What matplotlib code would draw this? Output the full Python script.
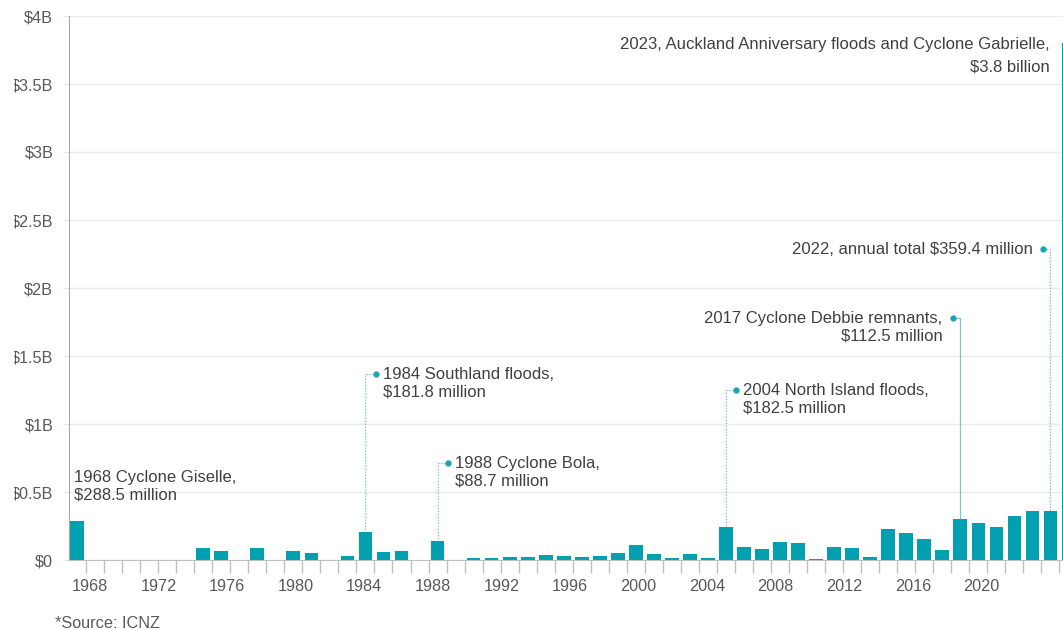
import matplotlib
matplotlib.use("Agg")
import matplotlib.pyplot as plt
from matplotlib.ticker import FixedLocator, FuncFormatter
from matplotlib.transforms import Bbox, TransformedBbox

plt.rcParams['font.family'] = ['Liberation Sans', 'DejaVu Sans']

# Annual insured weather-related losses, NZ$ million
years = list(range(1968, 2024))
losses = [
    288.5, 0, 0, 0, 0, 0, 0, 86, 66, 0,        # 1968-1977
    86, 0, 69, 49, 0, 29, 208, 61, 66, 0,      # 1978-1987
    137, 0, 12, 12, 25, 20, 39, 29, 25, 29,    # 1988-1997
    51, 108, 47, 12, 47, 12, 243, 98, 78, 132, # 1998-2007
    127, 10, 98, 91, 20, 225, 201, 154, 71, 301,  # 2008-2017
    274, 245, 323, 363, 359.4, 3800,           # 2018-2023
]

label_years = list(range(1968, 2021, 4))
y_ticks = [0, 500, 1000, 1500, 2000, 2500, 3000, 3500, 4000]

# Callouts: (year of bar, dot x, dot y, text, alignment, dotted leader)
callouts = [
    (1984, 1984.61, 1368, "1984 Southland floods,\n$181.8 million", "left", True),
    (1988, 1988.56, 713, "1988 Cyclone Bola,\n$88.7 million", "left", True),
    (2004, 2004.56, 1250, "2004 North Island floods,\n$182.5 million", "left", True),
    (2017, 2016.61, 1779, "2017 Cyclone Debbie remnants,\n$112.5 million", "right", False),
    (2022, 2021.61, 2287, "2022, annual total $359.4 million", "right", True),
]

BAR = "#00A0B0"
LINE = "#7fc6cf"
DOT = "#1aa3b3"
TXT = "#404040"
AX = "#595959"
FS_TICK = 11.7
FS_NOTE = 12

W, H = 1063, 630
fig = plt.figure(figsize=(W / 100, H / 100), dpi=100)
left, right, bottom, top = 69, 1077.5, 560, 16
ax = fig.add_axes([left / W, (H - bottom) / H, (right - left) / W, (bottom - top) / H])

ax.bar(years, losses, width=0.76, color=BAR, zorder=3)

ax.set_xlim(1967.556, 2023.5)
ax.set_ylim(0, 4000)

def fmt(v, _):
    if v == 0:
        return "$0"
    return f"${v / 1000:g}B"

ax.yaxis.set_major_locator(FixedLocator(y_ticks))
ax.yaxis.set_major_formatter(FuncFormatter(fmt))
ax.grid(axis="y", color="#ececec", linewidth=1, zorder=0)
ax.tick_params(axis="y", length=4.3, color="#e6e6e6", labelsize=FS_TICK,
               labelcolor=AX, pad=7)

# Year labels run on a slightly compressed spacing relative to the bars
label_pos = [1968.72 + (y - 1968) * 0.951 for y in label_years]
ax.set_xticks(label_pos)
ax.set_xticklabels([str(y) for y in label_years])
ax.xaxis.set_minor_locator(FixedLocator([y + 0.5 for y in years[:-1]]))
ax.tick_params(axis="x", which="major", length=0, labelsize=FS_TICK,
               labelcolor=AX, pad=14)
ax.tick_params(axis="x", which="minor", length=9, color="#bfbfbf", width=1)

for s in ["top", "right"]:
    ax.spines[s].set_visible(False)
ax.spines["left"].set_color("#a6a6a6")
ax.spines["bottom"].set_color("#bfbfbf")
ax.spines["left"].set_zorder(4)
ax.spines["bottom"].set_zorder(4)

value_of = dict(zip(years, losses))
for yr, dx, dy, text, ha, dotted in callouts:
    ls = (0, (1.2, 1.2)) if dotted else "-"
    ax.plot([dx, yr, yr], [dy, dy, value_of[yr]], color=LINE, linewidth=0.9,
            linestyle=ls, zorder=2, solid_capstyle="butt")
    ax.plot([dx], [dy], marker="o", markersize=3.5, color=DOT, zorder=5)
    off = 7 if ha == "left" else -11
    ax.annotate(text, xy=(dx, dy), xytext=(off, 7), textcoords="offset pixels",
                ha=ha, va="top", fontsize=FS_NOTE, color=TXT, linespacing=1.2,
                multialignment=ha, zorder=6)

# Labels without leaders
ax.text(1967.83, 544, "1968 Cyclone Giselle,\n$288.5 million", ha="left",
        va="center", fontsize=FS_NOTE, color=TXT, linespacing=1.2, zorder=6)
ax.text(2021.94, 3710, "2023, Auckland Anniversary floods and Cyclone Gabrielle,\n$3.8 billion",
        ha="right", va="center", fontsize=FS_NOTE, color=TXT, linespacing=1.6,
        multialignment="right", zorder=6)

fig.text(55 / W, 1 - 623 / H, "*Source: ICNZ", ha="left", va="center",
         fontsize=FS_TICK, color=AX)

# The figure's left margin trims the widest y labels
clip = TransformedBbox(Bbox([[14 / W, 0], [1, 1]]), fig.transFigure)
fig.canvas.draw()
for lab in ax.get_yticklabels():
    lab.set_clip_box(clip)
    lab.set_clip_on(True)

fig.savefig("out.png", dpi=100)
